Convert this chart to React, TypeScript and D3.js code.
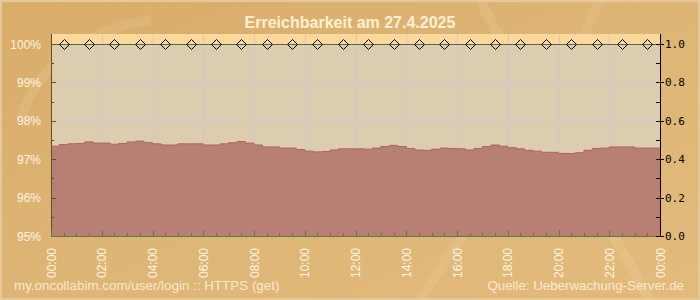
import React from "react";
import * as d3 from "d3";

const TITLE = "Erreichbarkeit am 27.4.2025";
const FOOT_LEFT = "my.oncollabim.com/user/login :: HTTPS (get)";
const FOOT_RIGHT = "Quelle: Ueberwachung-Server.de";

// availability in %, one value per 20-minute slot (72 slots)
const availability: number[] = [
  97.34, 97.38, 97.4, 97.41, 97.45, 97.42, 97.42, 97.39, 97.41, 97.45, 97.47, 97.43,
  97.4, 97.37, 97.37, 97.4, 97.4, 97.4, 97.37, 97.37, 97.4, 97.43, 97.46, 97.42,
  97.37, 97.32, 97.32, 97.29, 97.29, 97.25, 97.21, 97.19, 97.2, 97.24, 97.27, 97.27,
  97.27, 97.26, 97.29, 97.33, 97.36, 97.33, 97.28, 97.24, 97.23, 97.26, 97.29, 97.28,
  97.27, 97.24, 97.28, 97.33, 97.37, 97.34, 97.3, 97.27, 97.23, 97.21, 97.18, 97.18,
  97.15, 97.15, 97.17, 97.23, 97.28, 97.29, 97.32, 97.32, 97.32, 97.29, 97.29, 97.29,
];

// hourly check points (at half past every hour), status 1.0
const checkHours: number[] = [
  0.5, 1.5, 2.5, 3.5, 4.5, 5.5, 6.5, 7.5, 8.5, 9.5, 10.5, 11.5,
  12.5, 13.5, 14.5, 15.5, 16.5, 17.5, 18.5, 19.5, 20.5, 21.5, 22.5, 23.5,
];
const checkValues: number[] = [
  1, 1, 1, 1, 1, 1, 1, 1, 1, 1, 1, 1, 1, 1, 1, 1, 1, 1, 1, 1, 1, 1, 1, 1,
];

const leftTicks: number[] = [95, 96, 97, 98, 99, 100];
const rightTicks: number[] = [0, 0.2, 0.4, 0.6, 0.8, 1.0];
const hourTicks: number[] = [0, 2, 4, 6, 8, 10, 12, 14, 16, 18, 20, 22, 24];

const W = 700;
const H = 300;
const PL = 51;
const PR = 660;
const PT = 34;
const PB = 236;

export default function App() {
  const x = d3.scaleLinear().domain([0, 24]).range([PL, PR]);
  const y = d3.scaleLinear().domain([95, 100]).range([PB, 44]);
  const y2 = d3.scaleLinear().domain([0, 1]).range([PB, 44]);

  const pts: [number, number][] = availability.map((v, i) => [i / 3, v]);
  pts.push([24, availability[availability.length - 1]]);

  const area = d3
    .area<[number, number]>()
    .x((d) => x(d[0]))
    .y0(PB)
    .y1((d) => y(d[1]))
    .curve(d3.curveStepAfter);
  const line = d3
    .line<[number, number]>()
    .x((d) => x(d[0]))
    .y((d) => y(d[1]))
    .curve(d3.curveStepAfter);

  const minorLeft = d3.range(95, 100.01, 0.5);
  const minorRight = d3.range(0, 1.001, 0.1);
  const minorHours = d3.range(0, 24.01, 0.5);

  const fmtHour = (h: number) => `${String(h % 24).padStart(2, "0")}:00`;
  const diamond = (cx: number, cy: number) =>
    `M${cx - 5},${cy} L${cx},${cy - 5} L${cx + 5},${cy} L${cx},${cy + 5} Z`;

  return (
    <svg
      width={W}
      height={H}
      style={{ position: "absolute", left: 0, top: 0, display: "block" }}
      fontFamily="'Liberation Sans', Arial, sans-serif"
    >
      <defs>
        <linearGradient id="bg" x1="0" y1="0" x2="1" y2="1">
          <stop offset="0" stopColor="#D9AC68" />
          <stop offset="0.5" stopColor="#DDB575" />
          <stop offset="1" stopColor="#E2BB7C" />
        </linearGradient>
      </defs>
      <rect x={0} y={0} width={W} height={H} fill="#E4C898" />
      <rect x={2} y={2} width={W - 4} height={H - 4} fill="url(#bg)" />
      {/* faint swirls */}
      <g fill="none" stroke="#FFF4E0" strokeOpacity={0.1} strokeWidth={10}>
        <path d="M480,0 C520,80 560,140 650,300" />
        <path d="M600,0 C560,90 500,180 420,300" />
        <path d="M20,120 C40,60 90,30 150,20" />
      </g>

      <text
        x={350}
        y={27.5}
        textAnchor="middle"
        fontSize={16}
        fontWeight="bold"
        fill="#FFF1D2"
      >
        {TITLE}
      </text>

      {/* plot background */}
      <rect x={PL} y={PT} width={PR - PL} height={PB - PT} fill="#DCCDB1" />
      <rect x={PL} y={PT} width={PR - PL} height={44 - PT} fill="#FDD89C" />

      {/* grid */}
      <g stroke="#C9C9CF" strokeWidth={1}>
        {hourTicks.slice(1, -1).map((h) => (
          <line key={"gx" + h} x1={Math.round(x(h)) + 0.5} x2={Math.round(x(h)) + 0.5} y1={PT} y2={PB} />
        ))}
        {leftTicks.slice(1, -1).map((v) => (
          <line key={"gy" + v} x1={PL} x2={PR} y1={Math.round(y(v)) + 0.5} y2={Math.round(y(v)) + 0.5} />
        ))}
      </g>

      {/* area */}
      <path d={area(pts) ?? ""} fill="#B88074" />
      <path d={line(pts) ?? ""} fill="none" stroke="#B0635C" strokeWidth={1} />

      {/* 100% line and check points */}
      <line x1={PL} x2={PR} y1={44.5} y2={44.5} stroke="#5F6B2C" strokeWidth={1} />
      {checkHours.map((h, i) => (
        <path
          key={"d" + i}
          d={diamond(Math.round(x(h)) + 0.5, Math.round(y2(checkValues[i])) + 0.5)}
          fill="none"
          stroke="#000"
          strokeWidth={1}
        />
      ))}

      {/* left axis */}
      <g stroke="#6B4A22" strokeWidth={1}>
        <line x1={PL + 0.5} x2={PL + 0.5} y1={PT} y2={PB} />
        {minorLeft.map((v) => {
          const major = Math.abs(v - Math.round(v)) < 1e-6;
          const yy = Math.round(y(v)) + 0.5;
          return <line key={"lt" + v} x1={PL} x2={PL + (major ? 5 : 3)} y1={yy} y2={yy} />;
        })}
      </g>
      {leftTicks.map((v) => (
        <text key={"ll" + v} x={41} y={y(v) + 4.5} textAnchor="end" fontSize={12} fill="#FFF6E6">
          {`${v}%`}
        </text>
      ))}

      {/* bottom axis */}
      <g stroke="#66744A" strokeWidth={1}>
        <line x1={PL} x2={PR} y1={PB + 0.5} y2={PB + 0.5} />
        {minorHours.map((h) => {
          const major = Math.abs(h / 2 - Math.round(h / 2)) < 1e-6;
          const xx = Math.round(x(h)) + 0.5;
          return <line key={"bt" + h} x1={xx} x2={xx} y1={PB} y2={PB - (major ? 6 : 3)} />;
        })}
      </g>
      {hourTicks.map((h) => (
        <text
          key={"bl" + h}
          transform={`translate(${x(h) + 4.5},248) rotate(-90)`}
          textAnchor="end"
          fontSize={12}
          fill="#FFF6E6"
        >
          {fmtHour(h)}
        </text>
      ))}

      {/* right axis */}
      <g stroke="#000" strokeWidth={1}>
        <line x1={PR + 0.5} x2={PR + 0.5} y1={PT} y2={PB + 1} />
        <line x1={PR - 4} x2={PR + 1} y1={PB + 0.5} y2={PB + 0.5} />
        {minorRight.map((v) => {
          const major = Math.round(v * 10) % 2 === 0;
          const yy = Math.round(y2(v)) + 0.5;
          return (
            <line key={"rt" + v} x1={PR - 4} x2={PR + (major ? 4 : 0)} y1={yy} y2={yy} />
          );
        })}
      </g>
      {rightTicks.map((v) => (
        <text
          key={"rl" + v}
          x={665}
          y={y2(v) + 4}
          fontSize={11}
          fontFamily="'DejaVu Sans Mono', 'Liberation Mono', monospace"
          fill="#000"
        >
          {v.toFixed(1)}
        </text>
      ))}

      {/* footer */}
      <text x={14} y={290} fontSize={13.4} fill="#FFF1DA" fillOpacity={0.9}>
        {FOOT_LEFT}
      </text>
      <text x={684} y={290} textAnchor="end" fontSize={13.3} fill="#FFF1DA" fillOpacity={0.9}>
        {FOOT_RIGHT}
      </text>
    </svg>
  );
}
